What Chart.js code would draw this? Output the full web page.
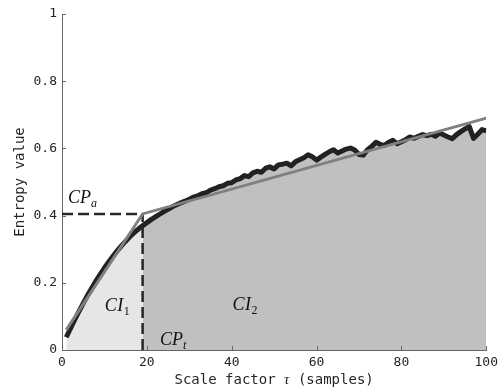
<!DOCTYPE html>
<html>
<head>
<meta charset="utf-8">
<script src="https://cdn.jsdelivr.net/npm/chart.js@4/dist/chart.umd.min.js"></script>
<style>
  html, body { margin: 0; padding: 0; background: #ffffff; }
  #wrap { width: 503px; height: 387px; }
</style>
</head>
<body>
<div id="wrap"><canvas id="c" width="503" height="387"></canvas></div>
<script>
// Scale factors (samples)
const tau = Array.from({ length: 100 }, (_, i) => i + 1);

// Entropy value at each scale factor
const entropy = [
  0.038, 0.064, 0.090, 0.115, 0.139, 0.162, 0.184, 0.205, 0.225, 0.244,
  0.262, 0.279, 0.295, 0.310, 0.324, 0.337, 0.349, 0.360, 0.370, 0.379,
  0.388, 0.396, 0.404, 0.412, 0.419, 0.426, 0.432, 0.438, 0.443, 0.449,
  0.455, 0.459, 0.465, 0.468, 0.476, 0.480, 0.486, 0.489, 0.496, 0.498,
  0.506, 0.510, 0.519, 0.516, 0.527, 0.532, 0.529, 0.541, 0.545, 0.539,
  0.551, 0.553, 0.556, 0.548, 0.560, 0.566, 0.572, 0.581, 0.575, 0.565,
  0.574, 0.582, 0.590, 0.596, 0.586, 0.592, 0.598, 0.601, 0.595, 0.582,
  0.580, 0.596, 0.606, 0.618, 0.612, 0.609, 0.618, 0.624, 0.614, 0.620,
  0.626, 0.634, 0.630, 0.636, 0.641, 0.638, 0.642, 0.636, 0.646, 0.640,
  0.634, 0.629, 0.641, 0.650, 0.658, 0.665, 0.630, 0.642, 0.656, 0.652
];

// Two-segment linear fit (knots)
const fitTau = [1, 19, 100];
const fitEntropy = [0.06, 0.405, 0.69];

// Change point
const changeTau = 19;
const changeEntropy = 0.405;

// Axis ticks
const xTicks = [0, 20, 40, 60, 80, 100];
const yTicks = [0, 0.2, 0.4, 0.6, 0.8, 1];

const pts = (xs, ys) => xs.map((x, i) => ({ x: x, y: ys[i] }));
const curve = pts(tau, entropy);
const cpIndex = tau.indexOf(changeTau);
const region1 = curve.slice(0, cpIndex + 1);
const region2 = curve.slice(cpIndex);
const fitLine = pts(fitTau, fitEntropy);

const INK = '#262626';
const MONO = '"DejaVu Sans Mono", monospace';
const SERIF = '"Liberation Serif", "DejaVu Serif", serif';

// Math-style annotations (anchored in data coordinates)
const mathLabels = [
  { base: 'CP', sub: 'a', subItalic: true,  x: 1.4,  y: 0.4375, spacing: 0 },
  { base: 'CI', sub: '1', subItalic: false, x: 10.1, y: 0.115,  spacing: 0.5 },
  { base: 'CP', sub: 't', subItalic: true,  x: 23.1, y: 0.015,  spacing: 0 },
  { base: 'CI', sub: '2', subItalic: false, x: 40.2, y: 0.119,  spacing: 0.5 }
];

const decorations = {
  id: 'decorations',
  afterDatasetsDraw(chart) {
    const { ctx, scales: { x, y }, chartArea } = chart;
    ctx.save();
    // inward tick marks
    ctx.strokeStyle = '#666666';
    ctx.lineWidth = 1;
    ctx.beginPath();
    yTicks.forEach(v => {
      const py = Math.round(y.getPixelForValue(v)) + 0.5;
      ctx.moveTo(chartArea.left, py);
      ctx.lineTo(chartArea.left + 4, py);
    });
    xTicks.forEach(v => {
      const px = Math.round(x.getPixelForValue(v)) + 0.5;
      ctx.moveTo(px, chartArea.bottom);
      ctx.lineTo(px, chartArea.bottom - 4);
    });
    ctx.stroke();

    // math labels
    ctx.fillStyle = '#111111';
    ctx.textBaseline = 'alphabetic';
    ctx.textAlign = 'left';
    mathLabels.forEach(l => {
      const px = x.getPixelForValue(l.x);
      const py = y.getPixelForValue(l.y);
      ctx.font = 'italic 18px ' + SERIF;
      let cx = px;
      for (const ch of l.base) {
        ctx.fillText(ch, cx, py);
        cx += ctx.measureText(ch).width + l.spacing;
      }
      ctx.font = (l.subItalic ? 'italic ' : '') + '12px ' + SERIF;
      ctx.fillText(l.sub, cx, py + 4);
    });

    // x-axis title with italic tau
    const parts = [
      { t: 'Scale factor ', f: '14px ' + MONO },
      { t: '\u03C4', f: 'italic 15px ' + SERIF },
      { t: ' (samples)', f: '14px ' + MONO }
    ];
    let total = 0;
    parts.forEach(p => { ctx.font = p.f; p.w = ctx.measureText(p.t).width; total += p.w; });
    let tx = (chartArea.left + chartArea.right) / 2 - total / 2;
    ctx.fillStyle = INK;
    ctx.textBaseline = 'middle';
    parts.forEach(p => { ctx.font = p.f; ctx.fillText(p.t, tx, 380); tx += p.w; });
    ctx.restore();
  }
};

new Chart(document.getElementById('c'), {
  type: 'line',
  data: {
    datasets: [
      { data: region1, fill: 'origin', backgroundColor: '#e6e6e6', borderWidth: 0, pointRadius: 0, order: 6 },
      { data: region2, fill: 'origin', backgroundColor: '#c0c0c0', borderWidth: 0, pointRadius: 0, order: 5 },
      { data: curve, borderColor: '#222222', borderWidth: 5, pointRadius: 0, fill: false, order: 4, borderJoinStyle: 'round' },
      { data: [{ x: 0, y: changeEntropy }, { x: changeTau, y: changeEntropy }], borderColor: INK, borderWidth: 2.5, borderDash: [11, 5], pointRadius: 0, fill: false, order: 3 },
      { data: [{ x: changeTau, y: 0 }, { x: changeTau, y: changeEntropy }], borderColor: INK, borderWidth: 2.5, borderDash: [11, 5], pointRadius: 0, fill: false, order: 2 },
      { data: fitLine, borderColor: '#808080', borderWidth: 3, pointRadius: 0, fill: false, order: 1, tension: 0 }
    ]
  },
  options: {
    responsive: false,
    animation: false,
    events: [],
    layout: { padding: { top: 14, right: 16, left: 0, bottom: 0 } },
    plugins: { legend: { display: false }, tooltip: { enabled: false } },
    scales: {
      x: {
        type: 'linear', min: 0, max: 100,
        afterBuildTicks: s => { s.ticks = xTicks.map(v => ({ value: v })); },
        afterFit: s => { s.height = 37; },
        grid: { display: false, drawTicks: false },
        border: { display: true, color: '#666666', width: 1 },
        ticks: { padding: 5, color: INK, font: { family: MONO, size: 13 }, maxRotation: 0, autoSkip: false },
        title: { display: false }
      },
      y: {
        type: 'linear', min: 0, max: 1,
        afterBuildTicks: s => { s.ticks = yTicks.map(v => ({ value: v })); },
        afterFit: s => { s.width = 62; },
        grid: { display: false, drawTicks: false },
        border: { display: true, color: '#666666', width: 1 },
        ticks: { padding: 5, color: INK, font: { family: MONO, size: 13 }, autoSkip: false,
                 callback: v => String(Math.round(v * 10) / 10) },
        title: { display: true, text: 'Entropy value', color: INK, font: { family: MONO, size: 14, lineHeight: 1 }, padding: { top: 13, bottom: 0 } }
      }
    }
  },
  plugins: [decorations]
});
</script>
</body>
</html>
